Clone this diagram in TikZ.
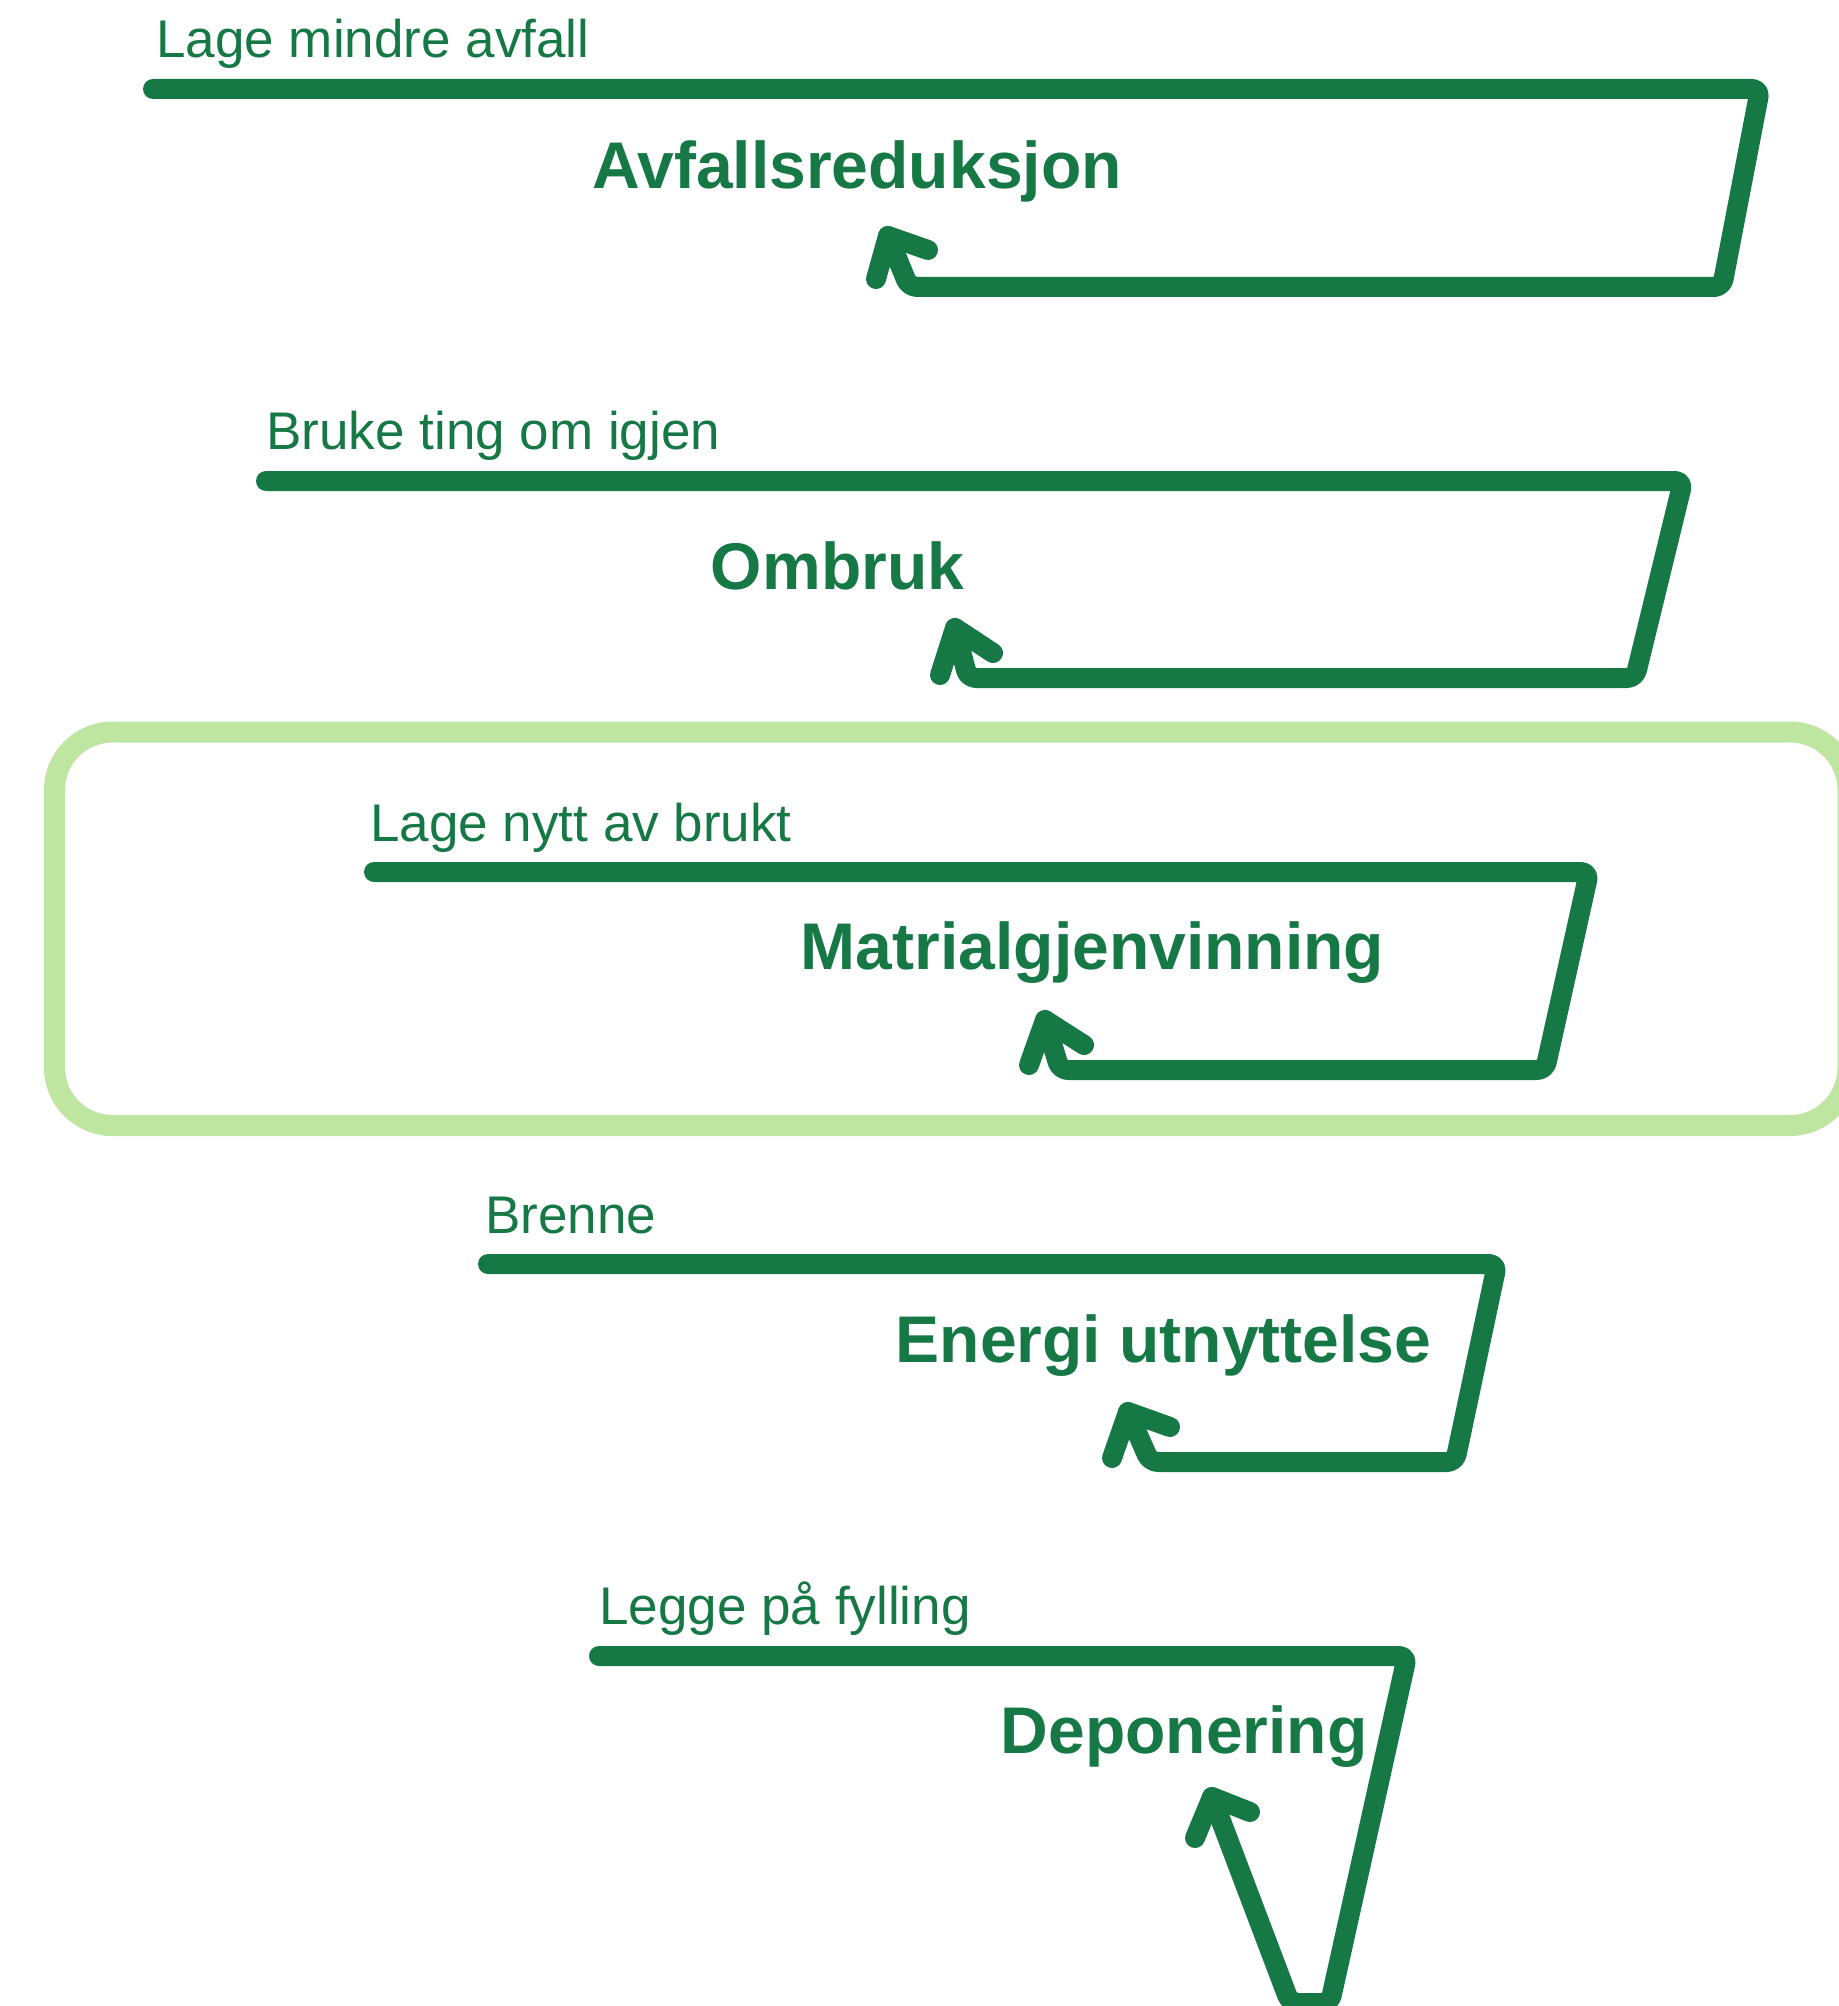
\documentclass[tikz,border=0pt]{standalone}
\usepackage{fontspec}
\setmainfont{Liberation Sans}
\definecolor{dkgreen}{RGB}{21,120,69}
\definecolor{ltgreen}{RGB}{190,230,160}
\begin{document}
\begin{tikzpicture}[x=0.5pt,y=-0.5pt,
  flow/.style={draw=dkgreen, line width=10pt, line cap=round, line join=round, rounded corners=4pt},
  tiphead/.style={draw=dkgreen, line width=10pt, line cap=round, line join=round},
  frame/.style={draw=ltgreen, line width=10.5pt, rounded corners=29pt},
  steplabel/.style={anchor=base west, inner sep=0pt, text=dkgreen, font=\fontsize{26.5pt}{30pt}\selectfont},
  steptitle/.style={anchor=base, inner sep=0pt, text=dkgreen, font=\bfseries\fontsize{33pt}{38pt}\selectfont}]
\useasboundingbox (0,0) rectangle (1839,2006);
\clip (0,0) rectangle (1839,2006);
\fill[white] (0,0) rectangle (1839,2006);

% highlight frame
\coordinate (fa) at (54.5,732);
\coordinate (fb) at (1848,1125.5);
\draw[frame] (fa) rectangle (fb);

% Section 1
\coordinate (a1) at (153,89);
\coordinate (a2) at (1760,89);
\coordinate (a3) at (1722,287);
\coordinate (a4) at (909,287);
\coordinate (at) at (888,236);
\coordinate (al) at (876,279);
\coordinate (ar) at (928,250);
\draw[flow] (a1) -- (a2) -- (a3) -- (a4) -- (at);
\draw[tiphead] (al) -- (at) -- (ar);
\node[steplabel] (l1) at (156,58) {Lage mindre avfall};
\node[steptitle] (t1) at (857,189) {Avfallsreduksjon};

% Section 2
\coordinate (b1) at (266,481);
\coordinate (b2) at (1683,481);
\coordinate (b3) at (1635,678);
\coordinate (b4) at (968,678);
\coordinate (bt) at (955,628);
\coordinate (bl) at (940,675);
\coordinate (br) at (993,653);
\draw[flow] (b1) -- (b2) -- (b3) -- (b4) -- (bt);
\draw[tiphead] (bl) -- (bt) -- (br);
\node[steplabel] (l2) at (266,449) {Bruke ting om igjen};
\node[steptitle] (t2) at (837.5,589) {Ombruk};

% Section 3
\coordinate (c1) at (374,872);
\coordinate (c2) at (1589,872);
\coordinate (c3) at (1545,1070);
\coordinate (c4) at (1060,1070);
\coordinate (ct) at (1045,1020);
\coordinate (cl) at (1029,1065);
\coordinate (cr) at (1084,1045);
\draw[flow] (c1) -- (c2) -- (c3) -- (c4) -- (ct);
\draw[tiphead] (cl) -- (ct) -- (cr);
\node[steplabel] (l3) at (370,841) {Lage nytt av brukt};
\node[steptitle] (t3) at (1092.5,969) {Matrialgjenvinning};

% Section 4
\coordinate (d1) at (488,1264);
\coordinate (d2) at (1497,1264);
\coordinate (d3) at (1455,1462);
\coordinate (d4) at (1150,1462);
\coordinate (dt) at (1128,1412);
\coordinate (dl) at (1112,1458);
\coordinate (dr) at (1170,1427);
\draw[flow] (d1) -- (d2) -- (d3) -- (d4) -- (dt);
\draw[tiphead] (dl) -- (dt) -- (dr);
\node[steplabel] (l4) at (485,1233) {Brenne};
\node[steptitle] (t4) at (1163.5,1362) {Energi utnyttelse};

% Section 5
\coordinate (e1) at (599,1656);
\coordinate (e2) at (1407,1656);
\coordinate (e3) at (1330,2003);
\coordinate (e4) at (1290,2003);
\coordinate (et) at (1212,1797);
\coordinate (el) at (1195,1838);
\coordinate (er) at (1250,1812);
\draw[flow] (e1) -- (e2) -- (e3) -- (e4) -- (et);
\draw[tiphead] (el) -- (et) -- (er);
\node[steplabel] (l5) at (599,1624) {Legge på fylling};
\node[steptitle] (t5) at (1184,1753) {Deponering};
\end{tikzpicture}
\end{document}
